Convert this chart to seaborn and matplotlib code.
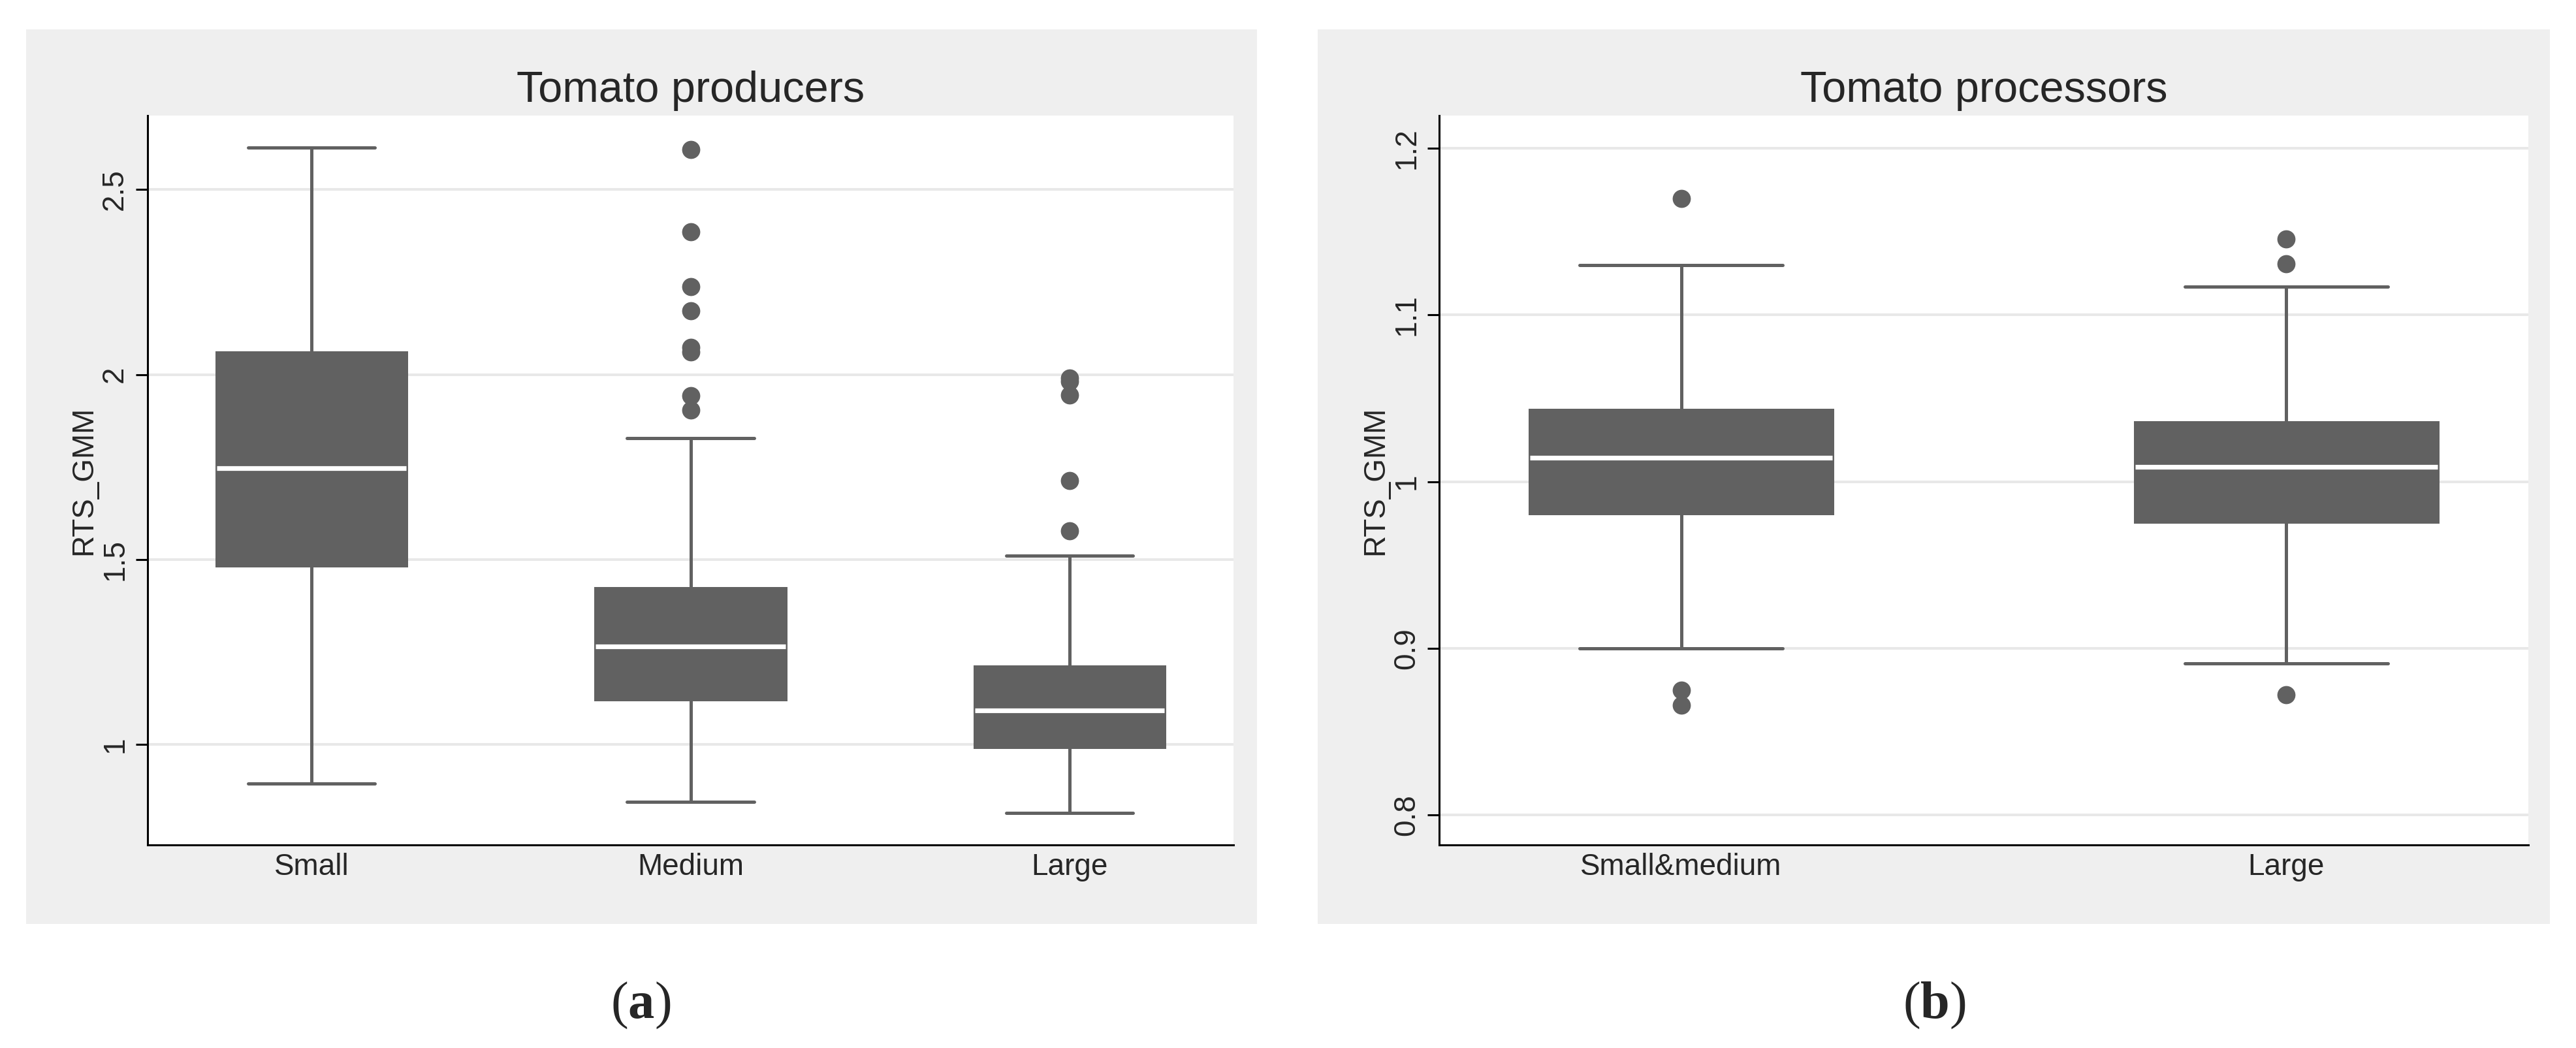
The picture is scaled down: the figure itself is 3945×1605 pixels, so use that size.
import pandas as pd
import matplotlib.pyplot as plt
import seaborn as sns
from matplotlib.patches import Rectangle

# Box summaries (RTS_GMM)
prod_groups = ['Small', 'Medium', 'Large']
prod_low = [0.894, 0.845, 0.815]
prod_q1 = [1.484, 1.122, 0.993]
prod_median = [1.748, 1.265, 1.093]
prod_q3 = [2.059, 1.422, 1.211]
prod_high = [2.613, 1.828, 1.510]
prod_outliers = [[],
                 [2.608, 2.386, 2.237, 2.172, 2.074, 2.061, 1.943, 1.904],
                 [1.990, 1.982, 1.945, 1.713, 1.577]]

proc_groups = ['Small&medium', 'Large']
proc_low = [0.900, 0.891]
proc_q1 = [0.981, 0.976]
proc_median = [1.0145, 1.0087]
proc_q3 = [1.043, 1.0356]
proc_high = [1.130, 1.117]
proc_outliers = [[1.170, 0.875, 0.866],
                 [1.1455, 1.1306, 0.872]]

prod_yticks = [1, 1.5, 2, 2.5]
prod_yticklabels = ['1', '1.5', '2', '2.5']
proc_yticks = [0.8, 0.9, 1.0, 1.1, 1.2]
proc_yticklabels = ['0.8', '0.9', '1', '1.1', '1.2']

BOX = '#616161'
PANEL = '#efefef'
GRID = '#e8e8e8'


def box_sample(lo, q1, med, q3, hi, outliers):
    # small sample whose quartiles / whiskers / fliers equal the given summary
    below = [v for v in outliers if v < lo]
    above = [v for v in outliers if v > hi]
    m = max(len(below), len(above)) + 2
    return (below + [lo] * (m - len(below)) + [q1] * m + [med] * m
            + [q3] + [hi] * (m - len(above)) + above)


def build_frame(groups, low, q1, med, q3, high, outliers):
    rows = []
    for i, g in enumerate(groups):
        for v in box_sample(low[i], q1[i], med[i], q3[i], high[i], outliers[i]):
            rows.append({'group': g, 'value': v})
    return pd.DataFrame(rows)


prod_df = build_frame(prod_groups, prod_low, prod_q1, prod_median, prod_q3, prod_high, prod_outliers)
proc_df = build_frame(proc_groups, proc_low, proc_q1, proc_median, proc_q3, proc_high, proc_outliers)

sns.set_style('white')
plt.rcParams['font.family'] = ['Liberation Sans', 'DejaVu Sans']
plt.rcParams['mathtext.fontset'] = 'custom'
plt.rcParams['mathtext.rm'] = 'Liberation Serif'
plt.rcParams['mathtext.bf'] = 'Liberation Serif:bold'

W, H = 3945, 1605
fig = plt.figure(figsize=(W / 100, H / 100), dpi=100, facecolor='white')

# grey panel backgrounds (Stata style)
for x0, x1 in [(40, 1925), (2018, 3905)]:
    fig.add_artist(Rectangle((x0 / W, 1 - 1415 / H), (x1 - x0) / W, 1370 / H,
                             transform=fig.transFigure, facecolor=PANEL,
                             edgecolor='none', zorder=-1))

ax1 = fig.add_axes([226 / W, 1 - 1294 / H, 1663 / W, 1117 / H])
ax2 = fig.add_axes([2204 / W, 1 - 1294 / H, 1668 / W, 1117 / H])

panels = [
    (ax1, prod_df, prod_groups, 'Tomato producers', prod_yticks, prod_yticklabels, (0.729, 2.70), (-0.433, 2.433)),
    (ax2, proc_df, proc_groups, 'Tomato processors', proc_yticks, proc_yticklabels, (0.782, 1.2196), (-0.4, 1.4)),
]

for ax, df, groups, title, yt, ytl, ylim, xlim in panels:
    sns.boxplot(data=df, x='group', y='value', order=groups, ax=ax,
                width=0.5, color=BOX, linecolor=BOX, saturation=1,
                linewidth=3.6, whis=1.5, capwidths=0.335,
                medianprops=dict(color='white', linewidth=5.2),
                flierprops=dict(marker='o', markerfacecolor=BOX,
                                markeredgecolor=BOX, markersize=19))
    ax.set_facecolor('white')
    ax.set_xlim(*xlim)
    ax.set_ylim(*ylim)
    ax.set_yticks(yt)
    ax.set_yticklabels(ytl, rotation=90, va='center')
    ax.yaxis.grid(True, color=GRID, linewidth=2.9)
    ax.xaxis.grid(False)
    ax.set_axisbelow(True)
    for side in ['top', 'right']:
        ax.spines[side].set_visible(False)
    for side in ['left', 'bottom']:
        ax.spines[side].set_color('black')
        ax.spines[side].set_linewidth(2.2)
    ax.tick_params(axis='y', length=13, width=2.2, pad=7, labelsize=33,
                   color='black', left=True)
    ax.tick_params(axis='x', length=0, pad=9, labelsize=33)
    ax.set_xlabel('')
    ax.set_ylabel('RTS_GMM', fontsize=33, labelpad=3)
    ax.set_title(title, fontsize=48, pad=15)

fig.text(981 / W, 1 - 1540 / H, r'($\mathbf{a}$)', ha='center', va='center',
         fontsize=58, family='Liberation Serif')
fig.text(2962 / W, 1 - 1540 / H, r'($\mathbf{b}$)', ha='center', va='center',
         fontsize=58, family='Liberation Serif')

fig.savefig('out.png', dpi=100, facecolor='white')
